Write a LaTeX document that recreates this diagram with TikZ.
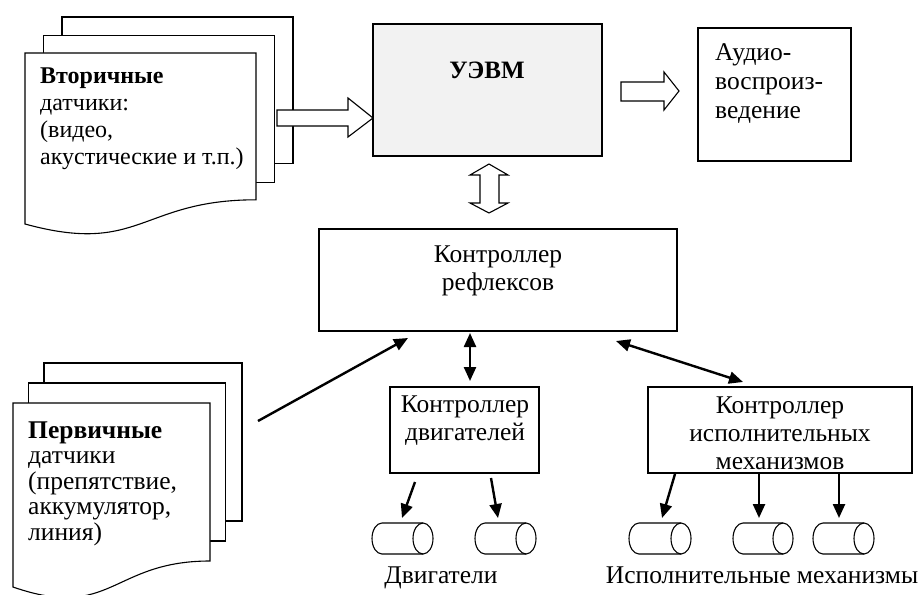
\documentclass[tikz,border=0pt]{standalone}
\usepackage{fontspec}
\setmainfont{Liberation Serif}
\usetikzlibrary{arrows.meta}
\definecolor{boxgray}{HTML}{F2F2F2}
\begin{document}
\begin{tikzpicture}[x=1pt,y=-1pt,
  box/.style={draw, line width=1.1pt, fill=white, inner sep=0pt},
  txt/.style={font=\fontsize{25.5}{28}\selectfont, inner sep=0pt},
  page/.style={draw, line width=1.1pt, fill=white, line join=miter},
  hollow/.style={draw, line width=1.1pt, fill=white, line join=miter},
  cyl/.style={draw, line width=1.1pt},
  conn/.style={line width=2.4pt, -{Triangle[length=14pt,width=12pt]}},
  biconn/.style={line width=2.4pt, {Triangle[length=14pt,width=12pt]}-{Triangle[length=14pt,width=12pt]}},
]
\useasboundingbox (0,0) rectangle (923,594);

% ---------- secondary sensors stack ----------
\path[page] (62,17) rectangle (293,163.8);
\path[page] (43.5,35.5) rectangle (274.5,182.3);
\path[page] (25,53) -- (256,53) -- (256,199.8)
  .. controls (140.5,199.8) and (140.5,255.7) .. (25,224) -- cycle;
\node[txt, anchor=base west, align=left, font=\fontsize{24}{27}\selectfont] (sec) at (40,164)
  {\textbf{Вторичные}\\датчики:\\(видео,\\акустические и т.п.)};

% ---------- primary sensors stack ----------
\path[page] (44,363) rectangle (242,521);
\path[page] (28.5,383) rectangle (225.5,541);
\path[page] (13,403) -- (210,403) -- (210,561)
  .. controls (111.5,561) and (111.5,621.2) .. (13,587) -- cycle;
\node[txt, anchor=base west, align=left, font=\fontsize{25.5}{25.5}\selectfont] (prim) at (28,540)
  {\textbf{Первичные}\\датчики\\(препятствие,\\аккумулятор,\\линия)};

% ---------- boxes ----------
\node[box, fill=boxgray, minimum width=229pt, minimum height=132pt] (uevm) at (487.5,90) {};
\node[txt, anchor=base, font=\fontsize{25}{28}\selectfont\bfseries] (uevmt) at (487,78) {УЭВМ};

\node[box, minimum width=153pt, minimum height=133pt] (audio) at (774.5,94.5) {};
\node[txt, anchor=base west, align=left, font=\fontsize{25.5}{29}\selectfont] (audiot) at (715,118)
  {Аудио-\\воспроиз-\\ведение};

\node[box, minimum width=358pt, minimum height=102pt] (refl) at (498,280) {};
\node[txt, anchor=base, align=center] (reflt) at (498,290) {Контроллер\\рефлексов};

\node[box, minimum width=149pt, minimum height=86pt] (motor) at (464.5,430) {};
\node[txt, anchor=base, align=center] (motort) at (465,440) {Контроллер\\двигателей};

\node[box, minimum width=264pt, minimum height=86pt] (act) at (780,430) {};
\node[txt, anchor=base, align=center] (actt) at (780,469)
  {Контроллер\\исполнительных\\механизмов};

% ---------- hollow block arrows ----------
\path[hollow] (277,110) -- (348,110) -- (348,98) -- (373,118) -- (348,137) -- (348,126) -- (277,126) -- cycle;
\path[hollow] (621,82) -- (664,82) -- (664,72) -- (679,91) -- (664,110) -- (664,101) -- (621,101) -- cycle;
\path[hollow] (480,175) -- (470,175) -- (489,164) -- (508,175) -- (499,175) -- (499,203)
  -- (508,203) -- (489,213) -- (470,203) -- (480,203) -- cycle;

% ---------- cylinders ----------
\foreach \n/\a/\b in {c1/382/423, c2/485/526, c3/639/681, c4/743/783, c5/823/864}{
  \draw[cyl] (\b,523) -- (\a,523) arc[start angle=270, end angle=90, x radius=10, y radius=15.5] -- (\b,554);
  \draw[cyl] (\b,538.5) ellipse[x radius=10, y radius=15.5];
  \coordinate (\n) at (\a,538.5);
}

% ---------- connector end points ----------
\coordinate (ps) at (258,421);  \coordinate (pe) at (408,338);
\coordinate (v1) at (470,333);  \coordinate (v2) at (470,381);
\coordinate (d1) at (616,341);  \coordinate (d2) at (743,382);
\coordinate (m1s) at (415,482); \coordinate (m1e) at (402,518);
\coordinate (m2s) at (491,478); \coordinate (m2e) at (498,518);
\coordinate (a1s) at (675,474); \coordinate (a1e) at (662,518);
\coordinate (a2s) at (759,474); \coordinate (a2e) at (759,518);
\coordinate (a3s) at (839,474); \coordinate (a3e) at (839,518);

\draw[conn] (ps) -- (pe);
\draw[biconn] (v1) -- (v2);
\draw[biconn] (d1) -- (d2);
\draw[conn] (m1s) -- (m1e);
\draw[conn] (m2s) -- (m2e);
\draw[conn] (a1s) -- (a1e);
\draw[conn] (a2s) -- (a2e);
\draw[conn] (a3s) -- (a3e);

% ---------- labels ----------
\node[txt, anchor=base] (motl) at (441,583) {Двигатели};
\node[txt, anchor=base] (actl) at (762,583) {Исполнительные механизмы};
\end{tikzpicture}
\end{document}
